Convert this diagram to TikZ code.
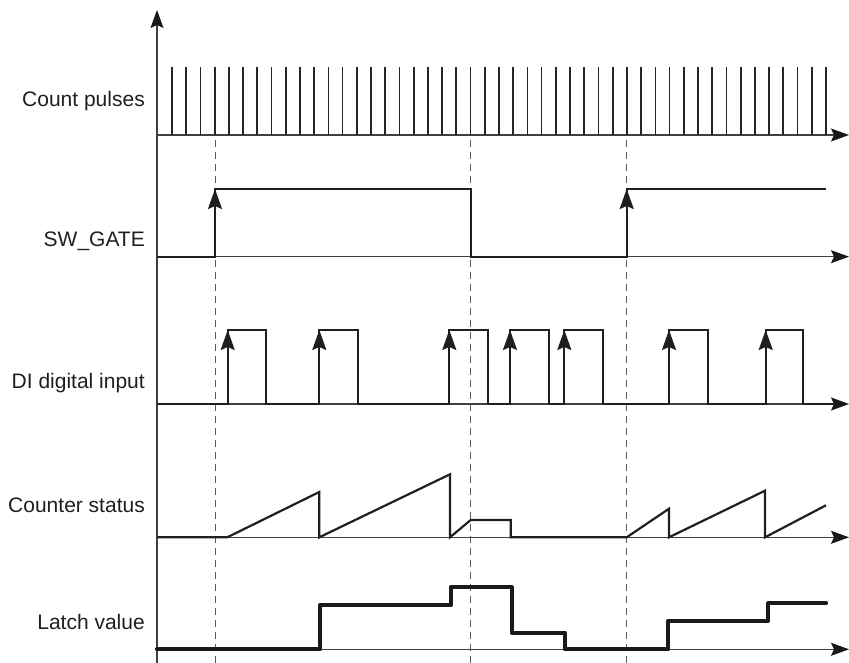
\documentclass[tikz,border=0pt]{standalone}
\usepackage{fontspec}
\setmainfont{Liberation Sans}
\usetikzlibrary{arrows.meta}
\begin{document}
\begin{tikzpicture}[x=1pt,y=-1pt,
 axis/.style={line width=1.1pt, draw=black!75, -{Stealth[length=18pt,width=13pt,inset=3pt,color=black!90,fill=black!90]}},
 sig/.style={line width=2.2pt, draw=black!88, line join=miter},
 pulse/.style={line width=1.7pt, draw=black!85},
 edgearrow/.style={line width=2.2pt, draw=black!88, -{Stealth[length=20pt,width=14pt,inset=3pt]}},
 guide/.style={line width=1pt, draw=black!65, dash pattern=on 7pt off 5pt},
 latch/.style={line width=4.2pt, draw=black!90, line join=round, line cap=round},
 lab/.style={anchor=base east, font=\fontsize{21}{25}\selectfont, text=black!88, inner sep=0pt}]
\useasboundingbox (0,0) rectangle (849,663);

% labels
\node[lab] (lcount) at (145,106.5) {Count pulses};
\node[lab] (lgate)  at (145,246.7) {SW\_GATE};
\node[lab] (ldi)    at (145,388.5) {DI digital input};
\node[lab] (lcs)    at (145,512.5) {Counter status};
\node[lab] (llatch) at (145,629.5) {Latch value};

% guides
\foreach \gx in {215,470.7,626.7}
  \draw[guide] (\gx,140) -- (\gx,663);

% axes
\coordinate (yb) at (157,663);
\coordinate (yt) at (157,10);
\draw[axis] (yb) -- (yt);
\foreach \ay in {135,256.7,404,537.3,649.3}
  \draw[axis] (157,\ay) -- (849,\ay);

% count pulses
\foreach \i in {0,...,46}
  \draw[pulse] ({172+\i*14.217},135) -- ({172+\i*14.217},67);

% SW_GATE
\draw[sig] (157,256.7) -- (215,256.7) -- (215,189) -- (470.7,189) -- (470.7,256.7)
  -- (626.7,256.7) -- (626.7,189) -- (826,189);
\foreach \ex in {215,626.7}
  \draw[edgearrow] (\ex,240) -- (\ex,189);

% DI digital input
\draw[sig] (157,404) -- (227.7,404) -- (227.7,330) -- (266,330) -- (266,404)
  -- (319.3,404) -- (319.3,330) -- (358.3,330) -- (358.3,404)
  -- (449.3,404) -- (449.3,330) -- (488.3,330) -- (488.3,404)
  -- (510,404) -- (510,330) -- (549,330) -- (549,404)
  -- (564.3,404) -- (564.3,330) -- (603.3,330) -- (603.3,404)
  -- (669,404) -- (669,330) -- (707.7,330) -- (707.7,404)
  -- (765.7,404) -- (765.7,330) -- (803.3,330) -- (803.3,404) -- (834,404);
\foreach \ex in {227.7,319.3,449.3,510,564.3,669,765.7}
  \draw[edgearrow] (\ex,380) -- (\ex,330);

% Counter status
\draw[sig] (157,537.3) -- (227.3,537.3) -- (319.3,492) -- (319.3,537.3)
  -- (450,474.3) -- (450,537.3) -- (470.7,520) -- (510.7,520) -- (510.7,537.3)
  -- (626.7,537.3) -- (669,508.7) -- (669,537.3) -- (765,490.7) -- (765,537.3)
  -- (826,505.3);

% Latch value
\draw[latch] (157,649.3) -- (320,649.3) -- (320,605) -- (450.7,605) -- (450.7,587.3)
  -- (511.7,587.3) -- (511.7,632.7) -- (565,632.7) -- (565,649.3) -- (668.3,649.3)
  -- (668.3,620.7) -- (768.3,620.7) -- (768.3,603.3) -- (826,603.3);
\end{tikzpicture}
\end{document}
